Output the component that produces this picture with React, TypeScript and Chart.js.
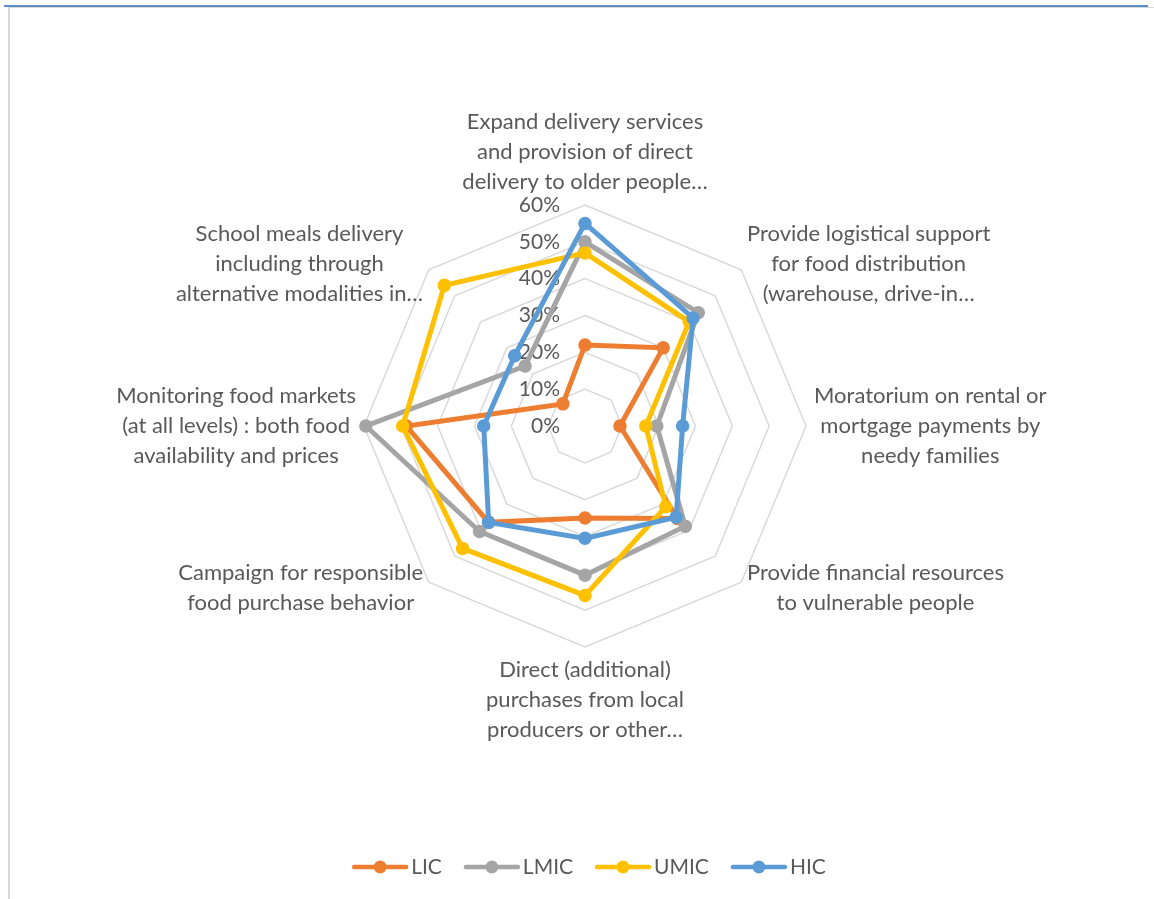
import React, { useEffect, useRef } from "react";
import { Chart, registerables } from "chart.js";

Chart.register(...registerables);

// ---- Data ----
const categories: string[][] = [
  ["Expand delivery services", "and provision of direct", "delivery to older people…"],
  ["Provide logistical support", "for food distribution", "(warehouse, drive-in…"],
  ["Moratorium on rental or", "mortgage payments by", "needy families"],
  ["Provide financial resources", "to vulnerable people"],
  ["Direct (additional)", "purchases from local", "producers or other…"],
  ["Campaign for responsible", "food purchase behavior"],
  ["Monitoring food markets", "(at all levels) : both food", "availability and prices"],
  ["School meals delivery", "including through", "alternative modalities in…"],
];

const seriesNames = ["LIC", "LMIC", "UMIC", "HIC"];
const licValues = [22, 30, 9.5, 35.5, 25, 37, 48.5, 8.5];
const lmicValues = [50, 43.5, 19.5, 38.5, 40.5, 40.5, 59.5, 23];
const umicValues = [47, 40, 16.5, 31, 46, 47, 49.5, 54];
const hicValues = [55, 41.5, 26.5, 35, 30.5, 37, 27.5, 27];
const tickLabels = ["0%", "10%", "20%", "30%", "40%", "50%", "60%"];
const tickValues = [0, 10, 20, 30, 40, 50, 60];

const seriesColors = ["#ED7D31", "#A5A5A5", "#FFC000", "#5B9BD5"];
const FONT = "Lato, 'Liberation Sans', sans-serif";
const TEXT_COLOR = "#595959";

const labelsPlugin = {
  id: "customLabels",
  beforeDatasetsDraw(chart: any) {
    const scale = chart.scales.r;
    const ctx = chart.ctx;
    ctx.save();
    ctx.font = `21px ${FONT}`;
    ctx.fillStyle = TEXT_COLOR;
    ctx.textAlign = "right";
    ctx.textBaseline = "middle";
    tickValues.forEach((v, i) => {
      const d = scale.getDistanceFromCenterForValue(v);
      ctx.fillText(tickLabels[i], scale.xCenter - 25, scale.yCenter - d);
    });
    ctx.restore();
  },
  afterDraw(chart: any) {
    const scale = chart.scales.r;
    const ctx = chart.ctx;
    ctx.save();
    ctx.font = `22px ${FONT}`;
    ctx.fillStyle = TEXT_COLOR;
    ctx.textBaseline = "middle";
    ctx.textAlign = "center";
    const lh = 30;
    categories.forEach((lines, i) => {
      const p = scale.getPointPosition(i, scale.drawingArea + 8);
      const a = scale.getIndexAngle(i) - Math.PI / 2;
      const c = Math.cos(a);
      const s = Math.sin(a);
      const w = Math.max(...lines.map((l) => ctx.measureText(l).width));
      const h = lines.length * lh;
      let cx = p.x;
      if (c > 0.1) cx = p.x + w / 2;
      else if (c < -0.1) cx = p.x - w / 2;
      let top = p.y - h / 2;
      if (s < -0.9) top = p.y - h;
      else if (s > 0.9) top = p.y;
      lines.forEach((l, k) => {
        ctx.fillText(l, cx, top + lh * k + lh / 2);
      });
    });

    // legend
    ctx.font = `21px ${FONT}`;
    const legendY = 867;
    const lineLen = 56;
    const gapText = 3;
    const itemGap = 22;
    const widths = seriesNames.map((n) => ctx.measureText(n).width);
    const total =
      widths.reduce((a, b) => a + b, 0) +
      seriesNames.length * (lineLen + gapText) +
      (seriesNames.length - 1) * itemGap;
    let x = 589 - total / 2;
    ctx.textAlign = "left";
    seriesNames.forEach((n, i) => {
      ctx.strokeStyle = seriesColors[i];
      ctx.lineWidth = 4.5;
      ctx.lineCap = "round";
      ctx.beginPath();
      ctx.moveTo(x + 2, legendY);
      ctx.lineTo(x + lineLen - 2, legendY);
      ctx.stroke();
      ctx.fillStyle = seriesColors[i];
      ctx.beginPath();
      ctx.arc(x + lineLen / 2, legendY, 6.5, 0, Math.PI * 2);
      ctx.fill();
      ctx.fillStyle = TEXT_COLOR;
      ctx.fillText(n, x + lineLen + gapText, legendY);
      x += lineLen + gapText + widths[i] + itemGap;
    });
    ctx.restore();
  },
};

export default function App() {
  const canvasRef = useRef<HTMLCanvasElement | null>(null);

  useEffect(() => {
    if (!canvasRef.current) return;
    const allValues = [licValues, lmicValues, umicValues, hicValues];
    const chart = new Chart(canvasRef.current, {
      type: "radar",
      data: {
        labels: categories,
        datasets: allValues.map((vals, i) => ({
          label: seriesNames[i],
          data: vals,
          borderColor: seriesColors[i],
          backgroundColor: seriesColors[i],
          pointBackgroundColor: seriesColors[i],
          pointBorderColor: seriesColors[i],
          borderWidth: 5,
          pointRadius: 6,
          pointBorderWidth: 1.5,
          fill: false,
          tension: 0,
          order: allValues.length - 1 - i,
        })),
      },
      options: {
        animation: false,
        responsive: false,
        maintainAspectRatio: false,
        layout: { padding: { left: 364, right: 348, top: 205, bottom: 252 } },
        plugins: { legend: { display: false }, tooltip: { enabled: false } },
        scales: {
          r: {
            min: 0,
            max: 60,
            beginAtZero: true,
            ticks: { stepSize: 10, display: false },
            pointLabels: { display: false },
            angleLines: { display: false },
            grid: { color: "#D9D9D9", lineWidth: 1.5, circular: false },
          },
        },
      },
      plugins: [labelsPlugin],
    });
    return () => chart.destroy();
  }, []);

  return (
    <div style={{ position: "absolute", left: 0, top: 0, width: 1154, height: 899, background: "#fff", overflow: "hidden" }}>
      <canvas ref={canvasRef} width={1154} height={899} style={{ position: "absolute", left: 0, top: 0 }} />
      <div style={{ position: "absolute", left: 4, top: 5, width: 1144, height: 2, background: "#5B8FC9" }} />
      <div style={{ position: "absolute", left: 10, top: 7, width: 1144, height: 1, background: "#D9D9D9" }} />
      <div style={{ position: "absolute", left: 8, top: 7, width: 2, height: 892, background: "#D9D9D9" }} />
    </div>
  );
}
